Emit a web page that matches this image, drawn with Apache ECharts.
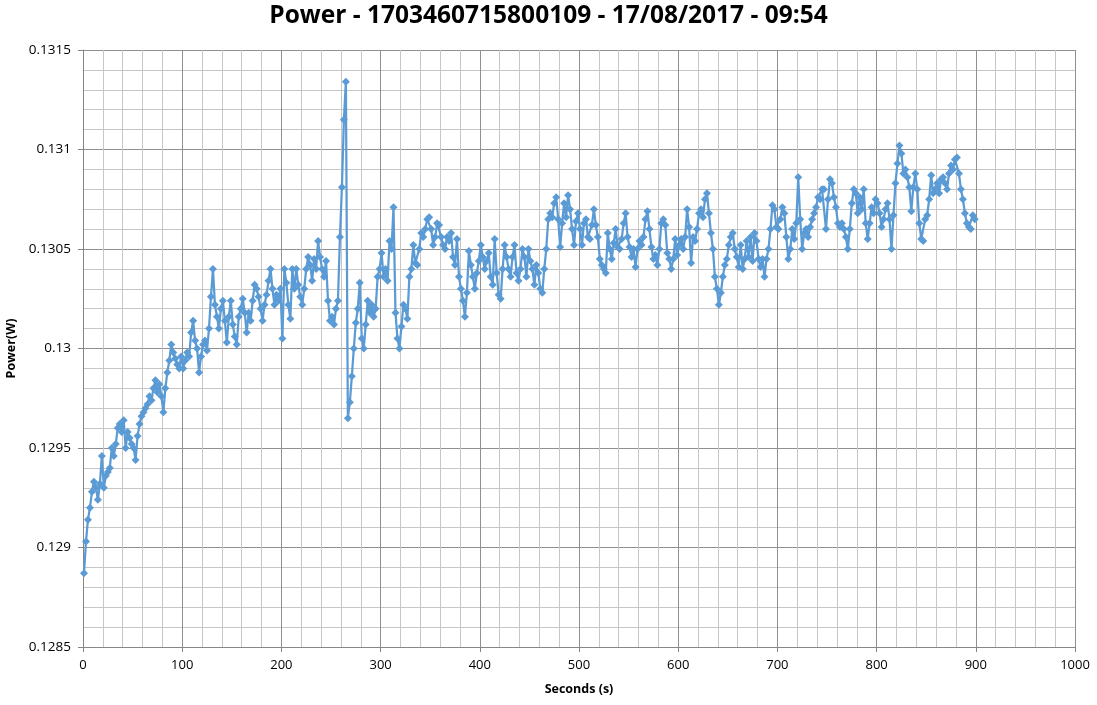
<!DOCTYPE html>
<html><head><meta charset="utf-8">
<script src="https://cdn.jsdelivr.net/npm/echarts@6/dist/echarts.min.js"></script>
<style>html,body{margin:0;padding:0;background:#fff}#c{width:1097px;height:705px}</style>
</head><body><div id="c"></div>
<script>
const TITLE = 'Power - 1703460715800109 - 17/08/2017 - 09:54';
const X_NAME = 'Seconds (s)';
const Y_NAME = 'Power(W)';
const T_START = 1, T_STEP = 2;

const p000 = [0.12887,0.12903,0.12914,0.12920,0.12928,0.12933,0.12930,0.12924,0.12932,0.12946,
0.12930,0.12936,0.12938,0.12940,0.12950,0.12946,0.12952,0.12960,0.12962,0.12958,
0.12964,0.12950,0.12958,0.12955,0.12952,0.12950,0.12944,0.12956,0.12962,0.12966,
0.12968,0.12970,0.12972,0.12976,0.12974,0.12980,0.12984,0.12978,0.12982,0.12976,
0.12968,0.12980,0.12988,0.12994,0.13002,0.12998,0.12995,0.12992,0.12990,0.12996];
const p100 = [0.12990,0.12994,0.12998,0.12996,0.13008,0.13014,0.13004,0.13000,0.12988,0.12996,
0.13002,0.13004,0.12999,0.13010,0.13026,0.13040,0.13022,0.13016,0.13010,0.13020,
0.13024,0.13014,0.13003,0.13016,0.13024,0.13012,0.13006,0.13002,0.13016,0.13020,
0.13025,0.13018,0.13008,0.13018,0.13014,0.13024,0.13032,0.13030,0.13026,0.13020,
0.13014,0.13022,0.13027,0.13034,0.13040,0.13030,0.13022,0.13027,0.13024,0.13030];
const p200 = [0.13005,0.13040,0.13033,0.13022,0.13015,0.13040,0.13030,0.13040,0.13032,0.13026,
0.13022,0.13030,0.13040,0.13046,0.13042,0.13034,0.13045,0.13040,0.13054,0.13046,
0.13040,0.13036,0.13044,0.13024,0.13014,0.13016,0.13012,0.13020,0.13024,0.13056,
0.13081,0.13115,0.13134,0.12965,0.12973,0.12986,0.13000,0.13013,0.13020,0.13033,
0.13005,0.13000,0.13012,0.13024,0.13018,0.13022,0.13016,0.13020,0.13036,0.13040];
const p300 = [0.13048,0.13036,0.13040,0.13034,0.13054,0.13050,0.13071,0.13018,0.13005,0.13000,
0.13011,0.13022,0.13020,0.13015,0.13036,0.13040,0.13052,0.13043,0.13042,0.13050,
0.13058,0.13056,0.13060,0.13065,0.13066,0.13060,0.13052,0.13056,0.13063,0.13062,
0.13056,0.13052,0.13050,0.13056,0.13054,0.13058,0.13046,0.13042,0.13055,0.13036,
0.13030,0.13024,0.13016,0.13028,0.13049,0.13042,0.13036,0.13030,0.13038,0.13044];
const p400 = [0.13052,0.13046,0.13040,0.13044,0.13048,0.13036,0.13032,0.13055,0.13038,0.13027,
0.13025,0.13040,0.13052,0.13046,0.13040,0.13036,0.13046,0.13052,0.13038,0.13034,
0.13040,0.13050,0.13046,0.13036,0.13050,0.13044,0.13040,0.13032,0.13042,0.13038,
0.13030,0.13028,0.13040,0.13050,0.13065,0.13068,0.13066,0.13073,0.13076,0.13065,
0.13051,0.13063,0.13073,0.13066,0.13077,0.13070,0.13060,0.13052,0.13064,0.13068];
const p500 = [0.13060,0.13052,0.13063,0.13065,0.13056,0.13055,0.13062,0.13070,0.13062,0.13056,
0.13045,0.13042,0.13040,0.13038,0.13058,0.13050,0.13045,0.13053,0.13060,0.13051,
0.13050,0.13055,0.13063,0.13068,0.13056,0.13051,0.13046,0.13050,0.13041,0.13050,
0.13054,0.13052,0.13056,0.13065,0.13069,0.13060,0.13051,0.13045,0.13047,0.13042,
0.13050,0.13063,0.13065,0.13062,0.13048,0.13045,0.13040,0.13045,0.13055,0.13047];
const p600 = [0.13052,0.13055,0.13050,0.13056,0.13070,0.13061,0.13043,0.13056,0.13054,0.13060,
0.13068,0.13070,0.13066,0.13075,0.13078,0.13068,0.13058,0.13050,0.13036,0.13030,
0.13022,0.13028,0.13036,0.13042,0.13045,0.13052,0.13056,0.13058,0.13050,0.13046,
0.13041,0.13052,0.13040,0.13045,0.13054,0.13046,0.13056,0.13044,0.13058,0.13054,
0.13045,0.13041,0.13045,0.13036,0.13045,0.13050,0.13060,0.13072,0.13070,0.13061];
const p700 = [0.13060,0.13065,0.13071,0.13068,0.13056,0.13045,0.13050,0.13060,0.13055,0.13063,
0.13086,0.13065,0.13050,0.13058,0.13060,0.13056,0.13061,0.13065,0.13068,0.13071,
0.13076,0.13075,0.13080,0.13080,0.13060,0.13075,0.13085,0.13083,0.13076,0.13071,
0.13063,0.13061,0.13063,0.13060,0.13056,0.13050,0.13060,0.13073,0.13080,0.13078,
0.13068,0.13076,0.13070,0.13080,0.13063,0.13055,0.13063,0.13071,0.13068,0.13075];
const p800 = [0.13073,0.13068,0.13061,0.13065,0.13070,0.13073,0.13065,0.13050,0.13067,0.13083,
0.13093,0.13102,0.13098,0.13088,0.13090,0.13086,0.13081,0.13069,0.13081,0.13088,
0.13080,0.13063,0.13055,0.13054,0.13065,0.13067,0.13075,0.13087,0.13078,0.13080,
0.13083,0.13078,0.13085,0.13086,0.13083,0.13080,0.13088,0.13092,0.13090,0.13095,
0.13096,0.13088,0.13080,0.13075,0.13068,0.13063,0.13061,0.13060,0.13067,0.13065];

const power = [].concat(p000, p100, p200, p300, p400, p500, p600, p700, p800);
const seconds = power.map((_, i) => T_START + i * T_STEP);
const data = seconds.map((s, i) => [s, power[i]]);

const FONT = 'Open Sans';
const chart = echarts.init(document.getElementById('c'), null, {renderer: 'canvas'});
chart.setOption({
  animation: false,
  backgroundColor: '#fff',
  title: {text: TITLE, left: 'center', top: -1,
    textStyle: {fontFamily: FONT, fontWeight: 'bold', fontSize: 24.5, color: '#000'}},
  grid: {left: 83, right: 22, top: 50, bottom: 58, containLabel: false, outerBoundsMode: 'none'},
  xAxis: {
    type: 'value', min: 0, max: 1000, interval: 100,
    name: X_NAME, nameLocation: 'middle', nameGap: 36,
    nameTextStyle: {fontFamily: FONT, fontWeight: 'bold', fontSize: 12.5, color: '#000'},
    axisLine: {show: true, onZero: false, lineStyle: {color: '#868686', width: 1}},
    axisTick: {show: true, length: 5, lineStyle: {color: '#868686'}},
    axisLabel: {fontFamily: FONT, fontSize: 13, color: '#000', margin: 12,
      formatter: v => String(v)},
    splitLine: {show: true, lineStyle: {color: '#8f8f8f', width: 1}},
    minorTick: {show: false, splitNumber: 5},
    minorSplitLine: {show: true, lineStyle: {color: '#c6c6c6', width: 1}}
  },
  yAxis: {
    type: 'value', min: 0.1285, max: 0.1315, interval: 0.0005,
    name: Y_NAME, nameLocation: 'middle', nameGap: 58, nameRotate: 90,
    nameTextStyle: {fontFamily: FONT, fontWeight: 'bold', fontSize: 12.5, color: '#000'},
    axisLine: {show: true, onZero: false, lineStyle: {color: '#868686', width: 1}},
    axisTick: {show: true, length: 5, lineStyle: {color: '#868686'}},
    axisLabel: {fontFamily: FONT, fontSize: 13.5, color: '#000', margin: 12},
    splitLine: {show: true, lineStyle: {color: '#8f8f8f', width: 1}},
    minorTick: {show: false, splitNumber: 5},
    minorSplitLine: {show: true, lineStyle: {color: '#c6c6c6', width: 1}}
  },
  series: [{
    type: 'line', data: data, symbol: 'diamond', symbolSize: 8, showAllSymbol: true,
    itemStyle: {color: '#5B9BD5'}, lineStyle: {color: '#5B9BD5', width: 2.25}
  }]
});
</script>
</body></html>
